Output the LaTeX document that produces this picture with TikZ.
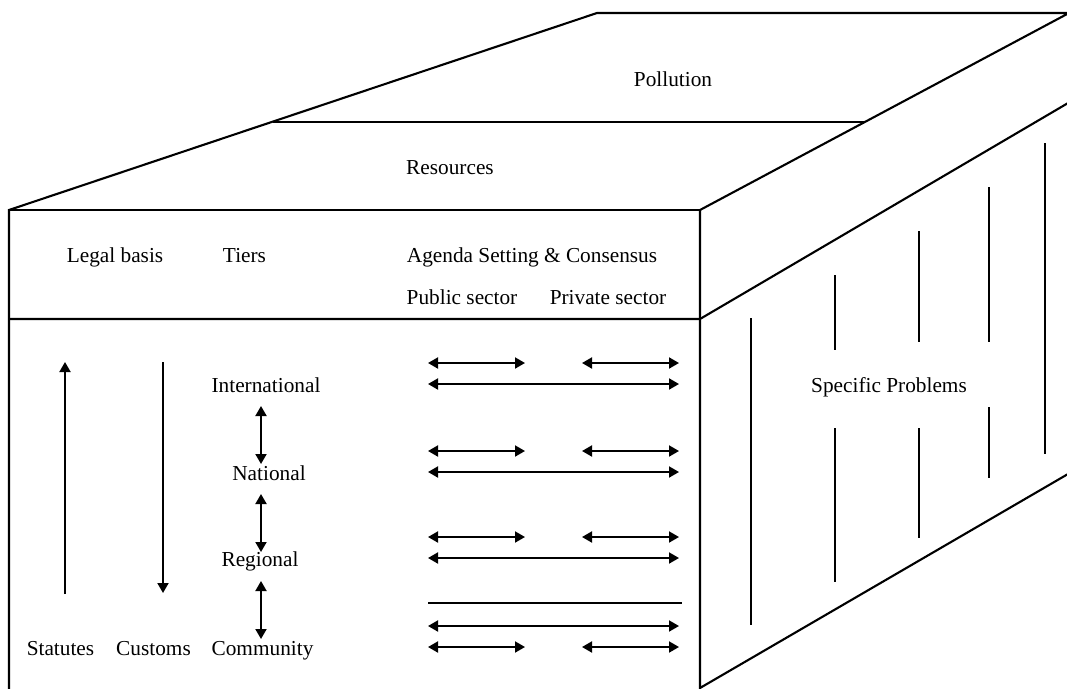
\documentclass[tikz,border=0pt]{standalone}
\usepackage{fontspec}
\setmainfont{Liberation Serif}
\usetikzlibrary{arrows.meta}
\newcommand\myfs{\fontsize{21.3}{25}\selectfont}
\begin{document}
\begin{tikzpicture}[x=1pt,y=-1pt,
  edge/.style={line width=2.1pt, line join=miter},
  thin/.style={line width=1.9pt},
  dbl/.style={line width=1.9pt, {Triangle[length=10pt,width=11pt]}-{Triangle[length=10pt,width=11pt]}},
  sgl/.style={line width=1.9pt, -{Triangle[length=10pt,width=11pt]}},
  lbl/.style={font=\myfs, inner sep=0pt, anchor=base}]
\useasboundingbox (0,0) rectangle (1067,688);
\clip (0,0) rectangle (1067,688);

% box corners
\coordinate (FTL) at (9,210);
\coordinate (FTR) at (700,210);
\coordinate (FML) at (9,319);
\coordinate (FMR) at (700,319);
\coordinate (FBL) at (9,700);
\coordinate (FBR) at (700,688);
\coordinate (TTL) at (597,13);
\coordinate (TTR) at (1069,13);
\coordinate (RMR) at (1080,96);
\coordinate (RBR) at (1080,467);
\coordinate (SL) at (273,122);
\coordinate (SR) at (864,122);

% outlines
\draw[edge] (FBL) -- (FTL) -- (TTL) -- (TTR) -- (FTR) -- (FBR) -- (RBR);
\draw[edge] (FTL) -- (FTR);
\draw[edge] (FML) -- (FMR) -- (RMR);
\draw[thin] (SL) -- (SR);

% right face vertical strokes
\foreach \n/\x/\a/\b in {a/751/318/625, b/835/275/350, c/835/428/582, d/919/231/342, e/919/428/538, f/989/187/342, g/989/407/478, h/1045/143/454} {
  \coordinate (v\n1) at (\x,\a);
  \coordinate (v\n2) at (\x,\b);
  \draw[thin] (v\n1) -- (v\n2);
}

% labels
\node[lbl] (pollution) at (673,86) {Pollution};
\node[lbl] (resources) at (450,174) {Resources};
\node[lbl] (legal) at (115,262) {Legal basis};
\node[lbl] (tiers) at (244.5,262) {Tiers};
\node[lbl] (agenda) at (532,262) {Agenda Setting \& Consensus};
\node[lbl] (public) at (462,304) {Public sector};
\node[lbl] (private) at (608,304) {Private sector};
\node[lbl] (intl) at (266,392) {International};
\node[lbl] (natl) at (269,480) {National};
\node[lbl] (regl) at (260,566) {Regional};
\node[lbl] (comm) at (262.5,655) {Community};
\node[lbl] (stat) at (60.5,655) {Statutes};
\node[lbl] (cust) at (153.5,655) {Customs};
\node[lbl] (spec) at (889,392) {Specific Problems};

% legal basis arrows
\coordinate (st1) at (65,594);
\coordinate (st2) at (65,362);
\draw[sgl] (st1) -- (st2);
\coordinate (cu1) at (163,362);
\coordinate (cu2) at (163,593);
\draw[sgl] (cu1) -- (cu2);

% tier arrows
\coordinate (t1a) at (261,406);
\coordinate (t1b) at (261,464);
\coordinate (t2a) at (261,494);
\coordinate (t2b) at (261,552);
\coordinate (t3a) at (261,581);
\coordinate (t3b) at (261,639);
\draw[dbl] (t1a) -- (t1b);
\draw[dbl] (t2a) -- (t2b);
\draw[dbl] (t3a) -- (t3b);

% sector arrows
\foreach \r/\ya/\yb in {1/363/384, 2/451/472, 3/537/558} {
  \coordinate (pa\r) at (428,\ya);
  \coordinate (pb\r) at (525,\ya);
  \coordinate (qa\r) at (582,\ya);
  \coordinate (qb\r) at (679,\ya);
  \coordinate (wa\r) at (428,\yb);
  \coordinate (wb\r) at (679,\yb);
  \draw[dbl] (pa\r) -- (pb\r);
  \draw[dbl] (qa\r) -- (qb\r);
  \draw[dbl] (wa\r) -- (wb\r);
}
\coordinate (la) at (428,603);
\coordinate (lb) at (682,603);
\draw[thin] (la) -- (lb);
\coordinate (wa4) at (428,626);
\coordinate (wb4) at (679,626);
\draw[dbl] (wa4) -- (wb4);
\coordinate (pa4) at (428,647);
\coordinate (pb4) at (525,647);
\coordinate (qa4) at (582,647);
\coordinate (qb4) at (679,647);
\draw[dbl] (pa4) -- (pb4);
\draw[dbl] (qa4) -- (qb4);
\end{tikzpicture}
\end{document}
